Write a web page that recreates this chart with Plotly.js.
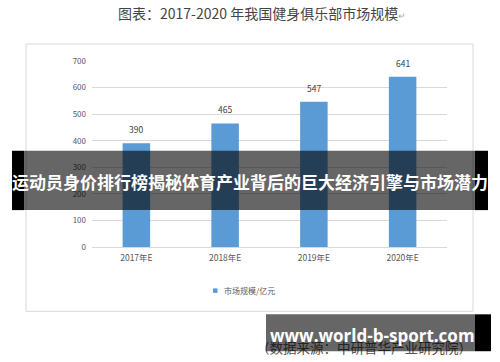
<!DOCTYPE html>
<html>
<head>
<meta charset="utf-8">
<script src="https://cdn.plot.ly/plotly-3.0.1.min.js"></script>
<style>
  html, body { margin: 0; padding: 0; background: #ffffff; }
  #chart { width: 500px; height: 362px; }
</style>
</head>
<body>
<div id="chart"></div>
<script>
// Market size of fitness clubs in China, 2017-2020 (estimates)
const categories = ['2017年E', '2018年E', '2019年E', '2020年E'];
const marketSize = [390, 465, 547, 641];
const seriesName = '市场规模/亿元';
const yTicks = [0, 100, 200, 300, 400, 500, 600, 700];
const chartTitle = '图表：2017-2020 年我国健身俱乐部市场规模';
const bannerText = '运动员身价排行榜揭秘体育产业背后的巨大经济引擎与市场潜力';
const siteText = 'www.world-b-sport.com';
const sourceText = '（数据来源：中研普华产业研究院）';

const W = 500, H = 362;
const L = 92, R = 447, T = 61, B = 247.5;
// pixel -> paper coordinates
const px = v => (v - L) / (R - L);
const py = v => (B - v) / (B - T);

const cjk = '"Noto Sans CJK SC", "Noto Sans", sans-serif';
const barColor = '#5b9bd5';
const gridColor = '#d9d9d9';

const trace = {
  type: 'bar',
  x: categories,
  y: marketSize,
  name: seriesName,
  marker: { color: barColor },
  width: 0.31,
  hoverinfo: 'x+y'
};

// value labels above each bar
const valueLabels = categories.map((c, i) => ({
  x: c, y: marketSize[i], xref: 'x', yref: 'y',
  text: String(marketSize[i]), showarrow: false,
  yanchor: 'bottom', yshift: 6,
  font: { family: cjk, size: 8.5, color: '#404040' }
}));

const rect = (x0, y0, x1, y1, extra) => Object.assign({
  type: 'rect', xref: 'paper', yref: 'paper',
  x0: px(x0), x1: px(x1), y0: py(y1), y1: py(y0),
  line: { width: 0 }
}, extra);

const shapes = [
  // chart frame
  rect(26, 44, 473, 312, { layer: 'below', line: { color: gridColor, width: 1 }, fillcolor: 'rgba(0,0,0,0)' }),
  // legend swatch
  rect(213, 289, 217.5, 293.5, { fillcolor: barColor }),
  // data source line (sits under the site overlay)
  rect(262, 342, 466, 358, {
    layer: 'above', fillcolor: 'rgba(0,0,0,0)',
    label: { text: sourceText, font: { family: cjk, size: 13.5, color: '#555555' }, textposition: 'middle center' }
  }),
  // headline banner
  rect(24, 151, 475, 210.5, { layer: 'above', fillcolor: 'rgba(0,0,0,0.6)' }),
  rect(12, 151, 24, 210.5, { layer: 'above', fillcolor: '#000000' }),
  rect(475, 151, 488, 210.5, { layer: 'above', fillcolor: '#000000' }),
  // site overlay
  rect(266, 315, 475, 352, { layer: 'above', fillcolor: 'rgba(0,0,0,0.6)' }),
  rect(475, 315, 491, 352, { layer: 'above', fillcolor: '#000000' })
];

const annotations = valueLabels.concat([
  {
    xref: 'paper', yref: 'paper', x: px(262), y: py(13),
    text: chartTitle + '<span style="font-size:9px;color:#aaaaaa">↵</span>',
    showarrow: false, xanchor: 'center', yanchor: 'middle',
    font: { family: cjk, size: 14, color: '#444444' }
  },
  {
    xref: 'paper', yref: 'paper', x: px(222), y: py(291.5),
    text: seriesName, showarrow: false, xanchor: 'left', yanchor: 'middle',
    font: { family: cjk, size: 8, color: '#595959' }
  },
  {
    xref: 'paper', yref: 'paper', x: px(250), y: py(181.5),
    text: '<b>' + bannerText + '</b>', showarrow: false,
    xanchor: 'center', yanchor: 'middle',
    font: { family: cjk, size: 17, color: '#ffffff' }
  },
  {
    xref: 'paper', yref: 'paper', x: px(372), y: py(336),
    text: '<b>' + siteText + '</b>', showarrow: false,
    xanchor: 'center', yanchor: 'middle',
    font: { family: '"Open Sans", "DejaVu Sans", sans-serif', size: 17, color: '#ffffff' }
  }
]);

const layout = {
  width: W, height: H,
  margin: { l: L, r: W - R, t: T, b: H - B, pad: 0 },
  paper_bgcolor: '#ffffff',
  plot_bgcolor: '#ffffff',
  showlegend: false,
  bargap: 0.69,
  xaxis: {
    type: 'category',
    showgrid: false, zeroline: false, showline: false,
    ticks: '', ticklabelstandoff: 4,
    tickfont: { family: cjk, size: 8.5, color: '#595959' },
    fixedrange: true
  },
  yaxis: {
    range: [0, 700],
    tickvals: yTicks,
    ticktext: yTicks.map(String),
    showgrid: true, gridcolor: gridColor, gridwidth: 1,
    zeroline: true, zerolinecolor: gridColor, zerolinewidth: 1,
    showline: false, ticks: '', ticklabelstandoff: 5,
    tickfont: { family: cjk, size: 8, color: '#595959' },
    fixedrange: true
  },
  shapes: shapes,
  annotations: annotations
};

Plotly.newPlot('chart', [trace], layout, { displayModeBar: false, staticPlot: true });
</script>
</body>
</html>
